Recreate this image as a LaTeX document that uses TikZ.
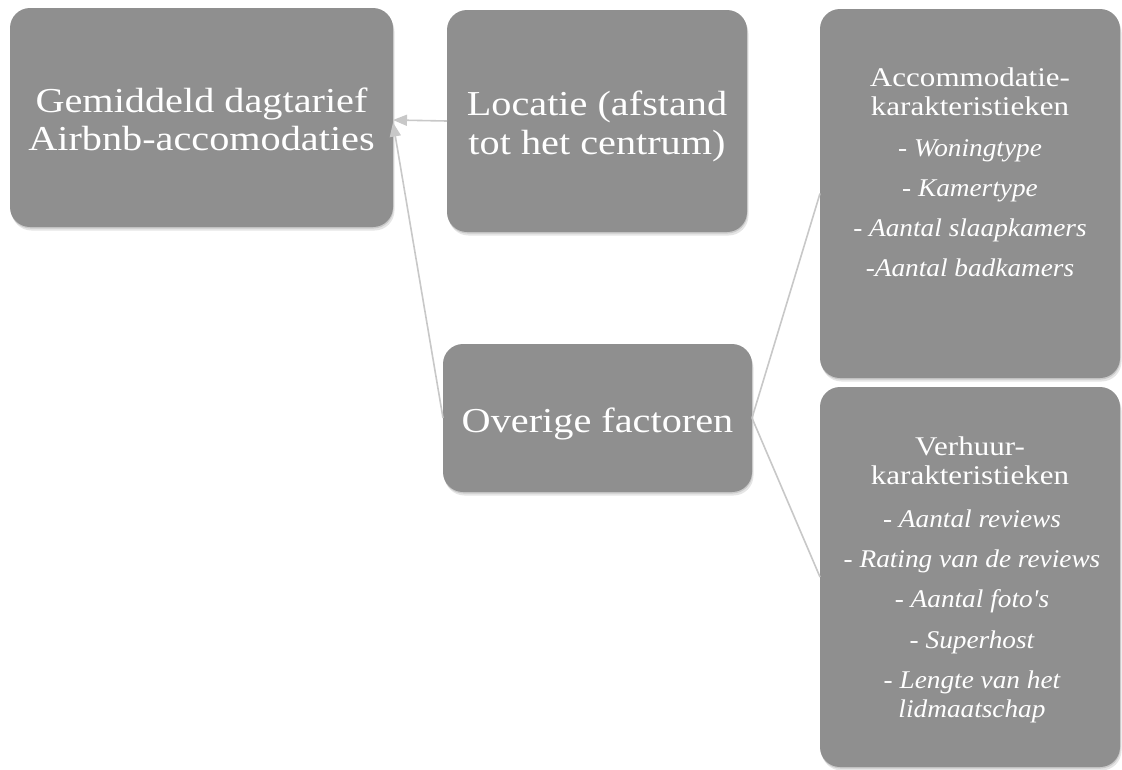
\documentclass[tikz,border=0pt]{standalone}
\usepackage{fontspec}
\setmainfont{Liberation Serif}[FakeStretch=1.15]
\newfontfamily\itemfont{Liberation Serif}[FakeStretch=1.07]
\usetikzlibrary{arrows.meta,shadows}
\definecolor{boxgray}{RGB}{143,143,143}
\definecolor{linegray}{RGB}{200,200,200}
\begin{document}
\begin{tikzpicture}[x=1pt,y=-1pt,
  box/.style={fill=boxgray, rounded corners=20pt, inner sep=0pt, outer sep=0pt,
    general shadow={fill=black, opacity=0.10, shadow xshift=1.5pt, shadow yshift=-3.5pt},
    general shadow={fill=black, opacity=0.12, shadow xshift=0.5pt, shadow yshift=-1.5pt}},
  bigtxt/.style={text=white, font=\fontsize{35}{38}\selectfont, anchor=base, inner sep=0pt},
  headtxt/.style={text=white, font=\fontsize{27}{29}\selectfont, anchor=base, inner sep=0pt},
  itemtxt/.style={text=white, font=\itemfont\itshape\fontsize{25.5}{29}\selectfont, anchor=base, inner sep=0pt},
  conn/.style={draw=linegray, line width=1.6pt},
  arr/.style={conn, -{Triangle[length=14pt,width=11pt,fill=linegray]}}]
\fill[white] (0,0) rectangle (1122,769);
\useasboundingbox (0,0) rectangle (1122,769);

% boxes
\node[box, minimum width=383pt, minimum height=219pt] (B1) at (201.5,117.5) {};
\node[box, minimum width=300pt, minimum height=222pt] (B2) at (597,121) {};
\node[box, minimum width=309pt, minimum height=148pt] (B3) at (597.5,418) {};
\node[box, minimum width=300pt, minimum height=369pt] (B4) at (970,193.5) {};
\node[box, minimum width=300pt, minimum height=380pt] (B5) at (970,577) {};

% connectors
\draw[arr] (B2.west) -- ([yshift=-2.5pt]B1.east);
\draw[arr] (B3.west) -- ([yshift=-5pt]B1.east);
\draw[conn] (B3.east) -- (B4.west);
\draw[conn] (B3.east) -- (B5.west);

% texts
\node[bigtxt] (t1a) at (201.5,112) {Gemiddeld dagtarief};
\node[bigtxt] (t1b) at (201.5,150) {Airbnb-accomodaties};
\node[bigtxt] (t2a) at (597,115) {Locatie (afstand};
\node[bigtxt] (t2b) at (597,154) {tot het centrum)};
\node[bigtxt] (t3) at (597.5,432) {Overige factoren};

\node[headtxt] (h4a) at (970,86) {Accommodatie-};
\node[headtxt] (h4b) at (970,115) {karakteristieken};
\node[itemtxt] (i4a) at (970,156) {- Woningtype};
\node[itemtxt] (i4b) at (970,196) {- Kamertype};
\node[itemtxt] (i4c) at (970,236) {- Aantal slaapkamers};
\node[itemtxt] (i4d) at (970,276) {-Aantal badkamers};

\node[headtxt] (h5a) at (970,455) {Verhuur-};
\node[headtxt] (h5b) at (970,484) {karakteristieken};
\node[itemtxt] (i5a) at (972,527) {- Aantal reviews};
\node[itemtxt] (i5b) at (972,567) {- Rating van de reviews};
\node[itemtxt] (i5c) at (972,607) {- Aantal foto's};
\node[itemtxt] (i5d) at (972,648) {- Superhost};
\node[itemtxt] (i5e) at (972,688) {- Lengte van het};
\node[itemtxt] (i5f) at (972,717) {lidmaatschap};
\end{tikzpicture}
\end{document}
